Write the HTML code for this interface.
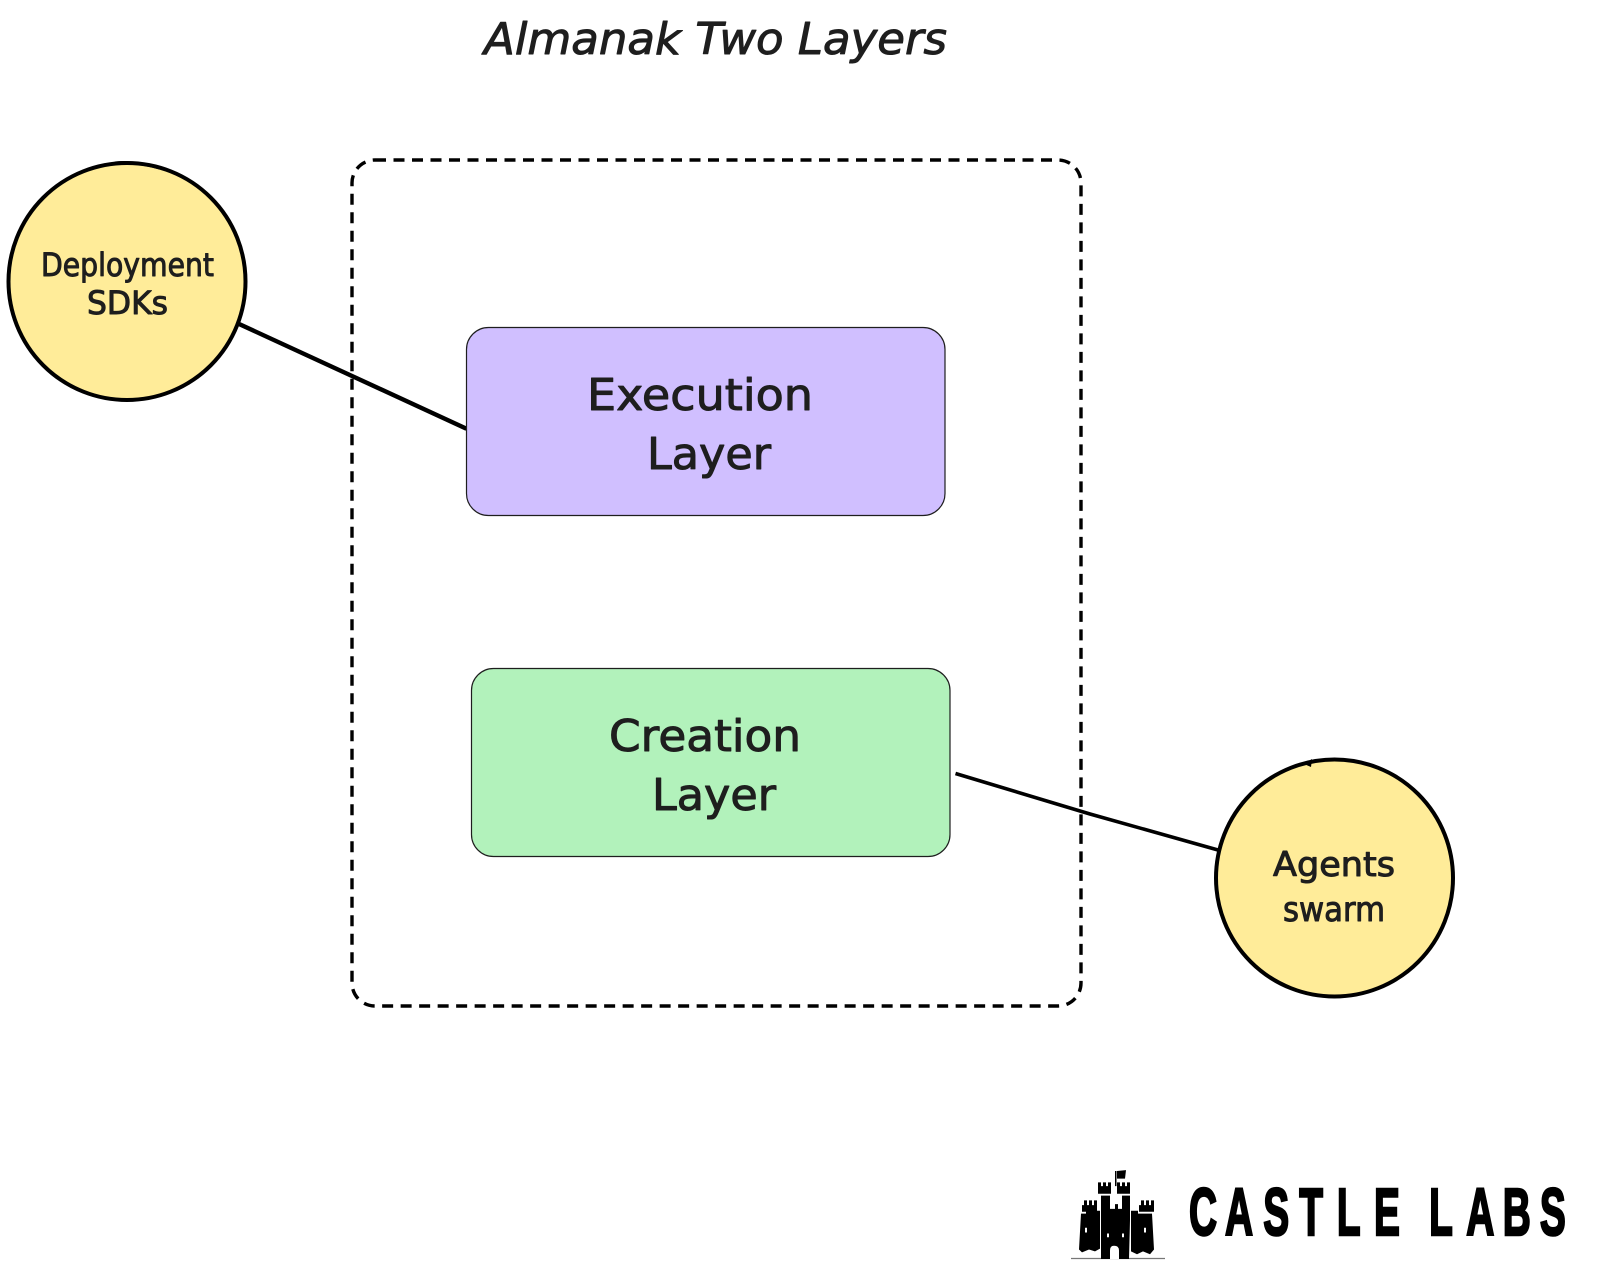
<!DOCTYPE html>
<html>
<head>
<meta charset="utf-8">
<style>
html,body{margin:0;padding:0;background:#fff;width:1600px;height:1280px;overflow:hidden}
svg{display:block}
.h{font-family:"DejaVu Sans","Liberation Sans",sans-serif;fill:#1e1e1e;stroke:#1e1e1e;stroke-width:1;stroke-linejoin:round}
.b{font-family:"Liberation Sans",sans-serif;font-weight:bold;fill:#000;stroke:#000;stroke-width:2.5}
</style>
</head>
<body>
<svg width="1600" height="1280" viewBox="0 0 1600 1280" xmlns="http://www.w3.org/2000/svg">
<rect width="1600" height="1280" fill="#fff"/>
<text class="h" x="484" y="54" font-size="44" font-style="italic" textLength="463" lengthAdjust="spacingAndGlyphs">Almanak Two Layers</text>
<rect x="352" y="160" width="729" height="846" rx="23" fill="none" stroke="#000" stroke-width="3.4" stroke-dasharray="11 7.5"/>
<path d="M238 323.5L466.5 428.7" stroke="#000" stroke-width="4.4" fill="none"/>
<path d="M955.5 773.5L1090 814L1218 850" stroke="#000" stroke-width="3.6" fill="none"/>
<circle cx="127" cy="281.5" r="118.5" fill="#ffec99" stroke="#000" stroke-width="4"/>
<path d="M115 163Q135 161 160 168" stroke="#000" stroke-width="3" fill="none"/>
<circle cx="1334.5" cy="878" r="118.5" fill="#ffec99" stroke="#000" stroke-width="4"/>
<path d="M1304 764L1312 759L1311 767z" fill="#000"/>
<rect x="466.5" y="327.5" width="478.5" height="188" rx="22" fill="#d0bfff" stroke="#1e1e1e" stroke-width="1.2"/>
<rect x="471.5" y="668.5" width="478.5" height="188" rx="22" fill="#b2f2bb" stroke="#1e1e1e" stroke-width="1.2"/>
<text class="h" x="587" y="410" font-size="44" textLength="226" lengthAdjust="spacingAndGlyphs">Execution</text>
<text class="h" x="647" y="469" font-size="44" textLength="124" lengthAdjust="spacingAndGlyphs">Layer</text>
<text class="h" x="609" y="751" font-size="44" textLength="192" lengthAdjust="spacingAndGlyphs">Creation</text>
<text class="h" x="652" y="810" font-size="44" textLength="124" lengthAdjust="spacingAndGlyphs">Layer</text>
<text class="h" x="41" y="276" font-size="32" textLength="173" lengthAdjust="spacingAndGlyphs">Deployment</text>
<text class="h" x="87" y="314" font-size="32" textLength="81" lengthAdjust="spacingAndGlyphs">SDKs</text>
<text class="h" x="1273" y="876" font-size="34" textLength="122" lengthAdjust="spacingAndGlyphs">Agents</text>
<text class="h" x="1283" y="921" font-size="34" textLength="102" lengthAdjust="spacingAndGlyphs">swarm</text>
<path d="M1071 1258.5H1165" stroke="#777" stroke-width="1.2"/>
<g transform="translate(-3,62.31) scale(1,.946)">
<g fill="#000">
<path d="M1085 1203v5h2v-5h3v5h2v-5h3v5h2v-5h3v12h-15zM1142 1203v5h2v-5h3v5h2v-5h3v5h2v-5h3v12h-15z"/>
<path d="M1084 1217h5v-3h14v40l-5 3-6-2-7 3-3-3zM1134 1214h7v3h14l2 38-4 5-7-3-6 3-6-3z"/>
<path d="M1101 1184h3v4h2v-4h3v4h2v-4h3v12h-13zM1120 1184h3v4h2v-4h3v4h2v-4h3v12h-13z"/>
<path d="M1104 1198h9v14h5v-5h3v5h4v-14h8v26l-1 41h-28v-41z"/>
<path d="M1118 1172h1.5v16H1118zM1120 1172l9-1-1 9-8 0z"/>
</g>
<path d="M1113 1265v-9q0-5 4-5q5 0 5 5v9z" fill="#fff"/>
<path d="M1088 1232h2v5h-2zM1147 1232h2v5h-2zM1110 1238h2v4h-2zM1125 1238h2v4h-2z" fill="#fff"/>
</g>
<text class="b" font-size="67" transform="translate(1189,1235) scale(.58,1)" x="0 62 128 190 255 319 380 414 478 541 605">CASTLE LABS</text>
</svg>
</body>
</html>
